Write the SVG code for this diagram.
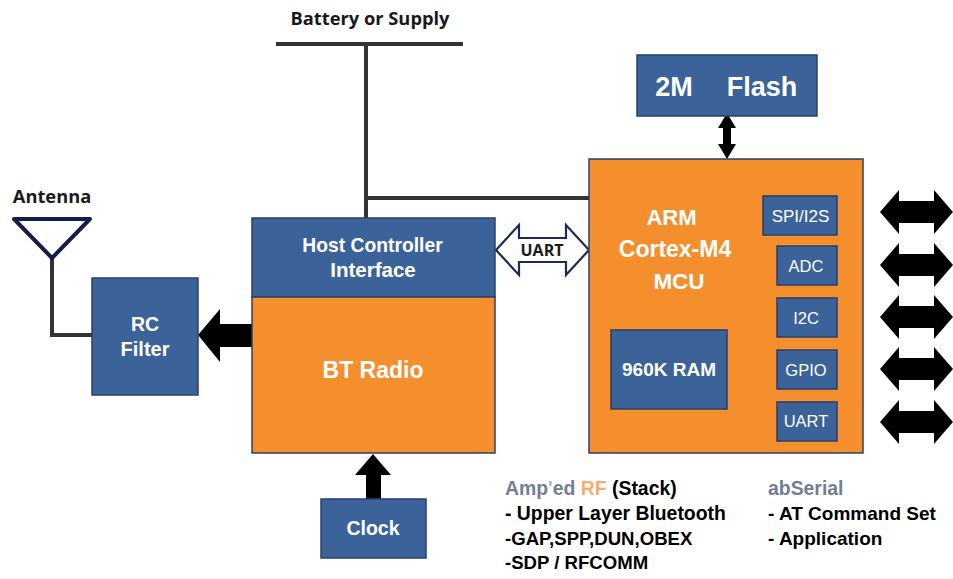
<svg xmlns="http://www.w3.org/2000/svg" width="953" height="579" viewBox="0 0 953 579">
<style>
text{font-family:"Liberation Sans",Arial,sans-serif;font-weight:700;text-anchor:middle}
.b{fill:#3b6399;stroke:#2a3f6b;stroke-width:1.5}
.o{fill:#f58f2e;stroke:#2a3f6b;stroke-width:1.5}
.w{fill:#fff}
.n{font-weight:400;fill:#fff;font-size:16.5px}
.l{text-anchor:start;font-size:19.4px;fill:#000}
.s{font-size:18.6px}
.line{fill:none;stroke:#333;stroke-width:4}
.h{font-family:"Open Sans","Liberation Sans",sans-serif;font-size:18.3px;fill:#1a1a1a}
</style>
<defs>
<path id="dbl" d="M0 0L19 -22V-11H54V-22L73 0L54 22V11H19V22Z" fill="#000"/>
</defs>
<rect width="953" height="579" fill="#fff"/>
<g id="connectors">
<path class="line" d="M276 44H463"/>
<path class="line" d="M366 44V218"/>
<path class="line" d="M368 198H589"/>
<path class="line" d="M52 258V335H92"/>
<path d="M198 335L220 309V324H252V347H220V362Z" fill="#000"/>
<path d="M373 454L391 475H381V499H366V475H355Z" fill="#000"/>
<path d="M727 113L736 128H731V144H736L727 159L718 144H723V128H718Z" fill="#000"/>
<path d="M496 250L519 225V238H566V225L589 250L566 275V262H519V275Z" fill="#fff" stroke="#1c2a56" stroke-width="2.2"/>
<use href="#dbl" x="880" y="212"/>
<use href="#dbl" x="880" y="265"/>
<use href="#dbl" x="880" y="317"/>
<use href="#dbl" x="880" y="369"/>
<use href="#dbl" x="880" y="422"/>
</g>
<text class="h" x="370" y="25">Battery or Supply</text>
<g id="antenna">
<path d="M14 219H90L52 258Z" fill="none" stroke="#141c4a" stroke-width="4" stroke-linejoin="round"/>
<text class="h" x="52" y="203">Antenna</text>
</g>
<g id="rc-filter">
<rect class="b" x="92" y="278" width="106" height="117"/>
<text class="w" x="145" y="331" font-size="19.500">RC</text>
<text class="w" x="145" y="356" font-size="20">Filter</text>
</g>
<g id="host-controller">
<rect class="b" x="252" y="218" width="243" height="79"/>
<text class="w" x="372.500" y="252" font-size="19.300">Host Controller</text>
<text class="w" x="373" y="277" font-size="20.500">Interface</text>
</g>
<g id="bt-radio">
<rect class="o" x="252" y="297" width="243" height="156"/>
<text class="w" x="373" y="378" font-size="23">BT Radio</text>
</g>
<g id="clock">
<rect class="b" x="321" y="499" width="105" height="59"/>
<text class="w" x="373" y="535" font-size="19.500">Clock</text>
</g>
<g id="flash">
<rect class="b" x="637" y="55" width="180" height="61"/>
<text class="w" x="674" y="96" font-size="27">2M</text>
<text class="w" x="762" y="96" font-size="27">Flash</text>
</g>
<g id="mcu">
<rect class="o" x="589" y="159" width="274" height="294"/>
<text class="w" x="671.500" y="225" font-size="22">ARM</text>
<text class="w" x="675" y="257" font-size="23">Cortex-M4</text>
<text class="w" x="679" y="289" font-size="22.500">MCU</text>
</g>
<g id="ram">
<rect class="b" x="611" y="330" width="116" height="79"/>
<text class="w" x="669" y="376" font-size="19">960K RAM</text>
</g>
<g id="spi">
<rect class="b" x="763" y="196" width="74" height="39"/>
<text class="n" x="800.500" y="222" style="font-size:17px">SPI/I2S</text>
</g>
<g id="adc">
<rect class="b" x="777" y="246" width="60" height="39"/>
<text class="n" x="806" y="272">ADC</text>
</g>
<g id="i2c">
<rect class="b" x="777" y="298" width="60" height="39"/>
<text class="n" x="806" y="324">I2C</text>
</g>
<g id="gpio">
<rect class="b" x="777" y="350" width="60" height="39"/>
<text class="n" x="806" y="376">GPIO</text>
</g>
<g id="uart-port">
<rect class="b" x="777" y="402" width="60" height="39"/>
<text class="n" x="806" y="427">UART</text>
</g>
<text class="h" x="542" y="256" style="font-size:16px">UART</text>
<g id="stack-notes">
<text class="l" x="505" y="495"><tspan fill="#6f7f95">Amp</tspan><tspan fill="#a9b4c2">'</tspan><tspan fill="#6f7f95">ed </tspan><tspan fill="#f2b070">RF</tspan> (Stack)</text>
<text class="l" x="505" y="520">- Upper Layer Bluetooth</text>
<text class="l s" x="505" y="545">-GAP,SPP,DUN,OBEX</text>
<text class="l s" x="505" y="569">-SDP / RFCOMM</text>
<text class="l" x="768" y="495" style="fill:#6f7f95">abSerial</text>
<text class="l" x="768" y="520" style="font-size:19px">- AT Command Set</text>
<text class="l" x="768" y="545" style="font-size:19px">- Application</text>
</g>
</svg>
